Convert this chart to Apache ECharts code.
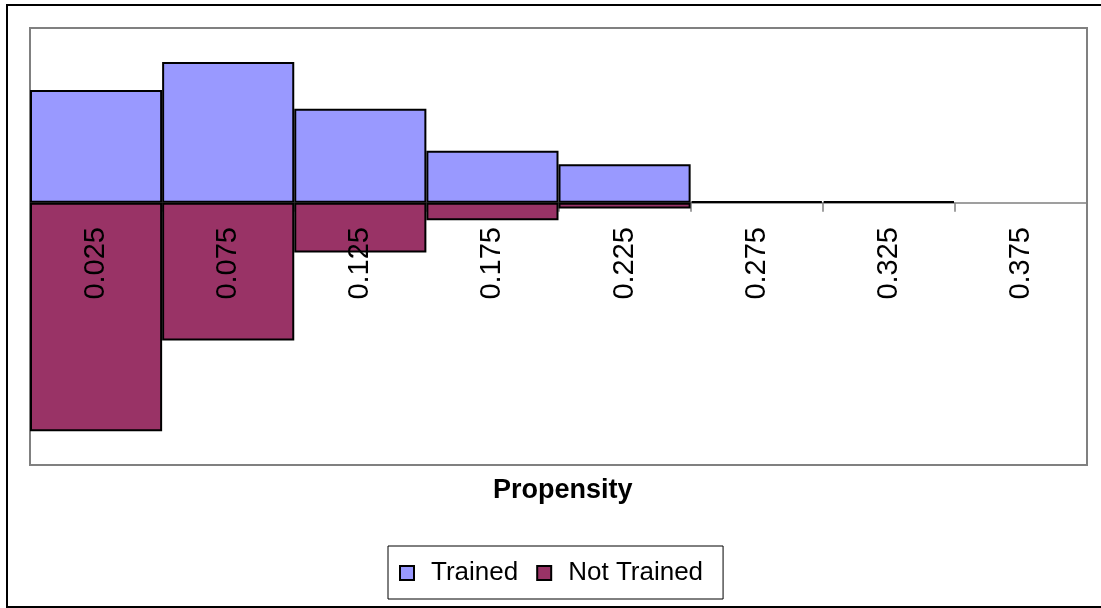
<!DOCTYPE html>
<html>
<head>
<meta charset="utf-8">
<title>Propensity</title>
<script src="https://cdn.jsdelivr.net/npm/echarts@6/dist/echarts.min.js"></script>
<style>
  html, body { margin: 0; padding: 0; background: #ffffff; }
  #chart { width: 1101px; height: 608px; }
</style>
</head>
<body>
<div id="chart"></div>
<script>
// Propensity bins (bin centres)
const categories = ['0.025', '0.075', '0.125', '0.175', '0.225', '0.275', '0.325', '0.375'];
// Share of each group falling in each bin
const trained = [0.258, 0.322, 0.215, 0.119, 0.088, 0.004, 0.004, 0];
const notTrained = [0.523, 0.315, 0.114, 0.040, 0.013, 0, 0, 0];

// Empty bins get no bar at all (a zero-height bar would still stroke its border)
const asBars = (values, sign) => values.map(v => (v === 0 ? null : sign * v));

const labelFont = 'Liberation Sans, Arial, sans-serif';

const chart = echarts.init(document.getElementById('chart'));

chart.setOption({
  backgroundColor: '#ffffff',
  animation: false,
  title: {
    text: 'Propensity',
    left: 488,
    top: 472,
    textStyle: {
      fontFamily: labelFont,
      fontWeight: 'bold',
      fontSize: 27,
      color: '#000000'
    }
  },
  legend: {
    left: 388,
    top: 546,
    orient: 'horizontal',
    itemWidth: 14,
    itemHeight: 14,
    itemGap: 18,
    padding: [14, 20, 13, 11],
    borderColor: '#000000',
    borderWidth: 1,
    icon: 'rect',
    textStyle: {
      fontFamily: labelFont,
      fontSize: 26,
      color: '#000000',
      padding: [0, 0, 0, 12]
    },
    data: ['Trained', 'Not Trained']
  },
  grid: {
    left: 30,
    top: 28,
    right: 14,
    bottom: 143,
    show: true,
    borderColor: '#808080',
    borderWidth: 2,
    containLabel: false
  },
  xAxis: [
    {
      // zero line and bin boundary ticks, drawn beneath the bars
      type: 'category',
      data: categories,
      position: 'bottom',
      axisLine: { onZero: true, lineStyle: { color: '#808080', width: 1.5 } },
      axisTick: { show: true, interval: 0, length: 9, lineStyle: { color: '#808080', width: 1.5 } },
      axisLabel: { show: false },
      splitLine: { show: false }
    },
    {
      // bin labels, drawn on top of the bars
      type: 'category',
      data: categories,
      position: 'bottom',
      z: 5,
      axisLine: { show: false, onZero: true },
      axisTick: { show: false },
      axisLabel: {
        interval: 0,
        rotate: 90,
        // labels hang just below the zero line rather than the grid's lower edge
        margin: -238,
        fontFamily: labelFont,
        fontSize: 29,
        color: '#000000'
      },
      splitLine: { show: false }
    }
  ],
  yAxis: {
    type: 'value',
    min: -0.6,
    max: 0.4,
    interval: 0.2,
    show: false,
    splitLine: { show: false }
  },
  series: [
    {
      name: 'Not Trained',
      type: 'bar',
      stack: 'share',
      xAxisIndex: 0,
      barCategoryGap: 0,
      itemStyle: { color: '#993366', borderColor: '#000000', borderWidth: 2 },
      data: asBars(notTrained, -1)
    },
    {
      name: 'Trained',
      type: 'bar',
      stack: 'share',
      xAxisIndex: 0,
      barCategoryGap: 0,
      itemStyle: { color: '#9999FF', borderColor: '#000000', borderWidth: 2 },
      data: asBars(trained, 1)
    }
  ],
  graphic: [
    {
      type: 'rect',
      shape: { x: 7, y: 5, width: 1110, height: 602 },
      style: { fill: 'none', stroke: '#000000', lineWidth: 2 },
      silent: true
    }
  ]
});
</script>
</body>
</html>
